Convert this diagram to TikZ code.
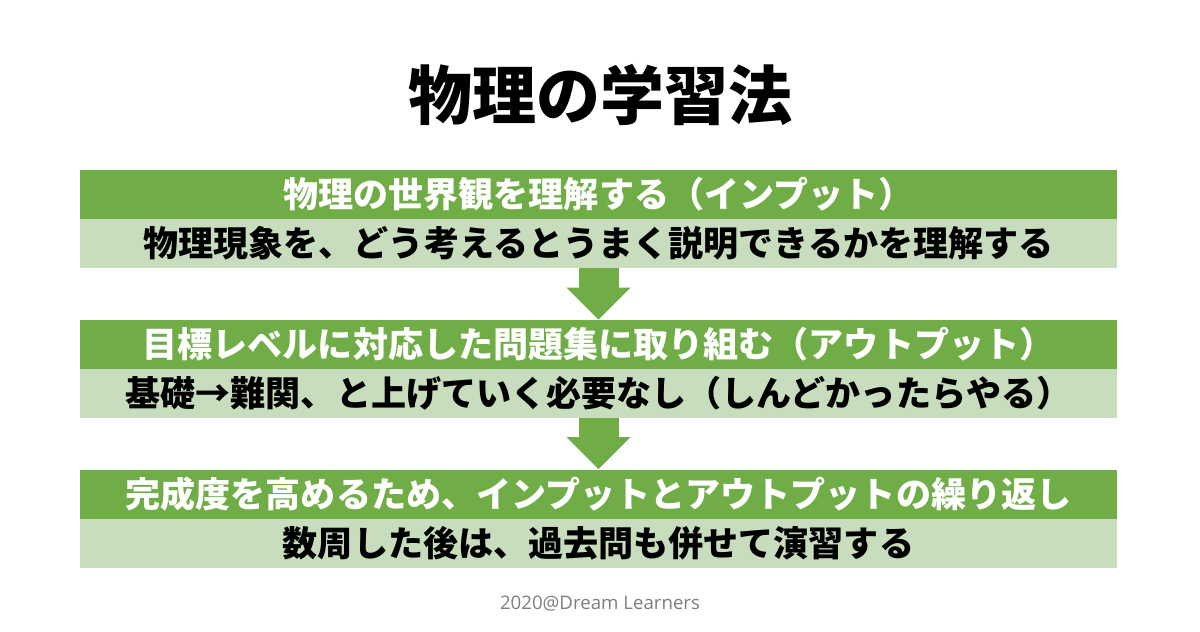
\documentclass[tikz,border=0pt]{standalone}
\usepackage{fontspec}
\usepackage{tikz}
\usetikzlibrary{arrows.meta}
\setmainfont{Open Sans}
\newfontfamily\jpfont{Noto Sans CJK JP}
\definecolor{dgreen}{HTML}{70AD47}
\definecolor{lgreen}{HTML}{C8DCBE}
\definecolor{fgray}{HTML}{7F7F7F}
\pgfdeclarelayer{edgelayer}
\pgfdeclarelayer{nodelayer}
\pgfsetlayers{main,edgelayer,nodelayer}
\tikzstyle{titletext}=[inner sep=0pt,font=\jpfont\bfseries\fontsize{48}{50}\selectfont]
\tikzstyle{header}=[rectangle,fill=dgreen,draw=none,minimum width=777.75pt,minimum height=36.75pt,inner sep=0pt,text=white,font=\jpfont\bfseries\fontsize{26.3}{28}\selectfont]
\tikzstyle{detail}=[header,fill=lgreen,text=black]
\tikzstyle{flow}=[-{Triangle[width=48pt,length=24pt,line width=0pt]},draw=dgreen,fill=dgreen,line width=30pt]
\tikzstyle{credit}=[inner sep=0pt,text=fgray,font=\fontsize{14}{16}\selectfont]

\begin{document}
\begin{tikzpicture}[x=0.75pt,y=-0.75pt]
	\fill [white] (0,0) rectangle (1200,632);
	\useasboundingbox (0,0) rectangle (1200,632);
	\begin{pgfonlayer}{nodelayer}
		\node [style=titletext] (T) at (600, 95) {物理の学習法};
		\node [style=header] (H1) at (598.5, 194.5) {物理の世界観を理解する（インプット）};
		\node [style=detail] (S1) at (598.5, 243.5) {物理現象を、どう考えるとうまく説明できるかを理解する};
		\node [style=header] (H2) at (598.5, 344.5) {目標レベルに対応した問題集に取り組む（アウトプット）};
		\node [style=detail] (S2) at (598.5, 393.5) {基礎→難関、と上げていく必要なし（しんどかったらやる）};
		\node [style=header] (H3) at (598.5, 494) {完成度を高めるため、インプットとアウトプットの繰り返し};
		\node [style=detail] (S3) at (598.5, 543) {数周した後は、過去問も併せて演習する};
		\node [style=credit] (C) at (600, 604) {2020@Dream Learners};
	\end{pgfonlayer}
	\begin{pgfonlayer}{edgelayer}
		\draw [style=flow] (S1.south) to (H2.north);
		\draw [style=flow] (S2.south) to (H3.north);
	\end{pgfonlayer}
\end{tikzpicture}
\end{document}
